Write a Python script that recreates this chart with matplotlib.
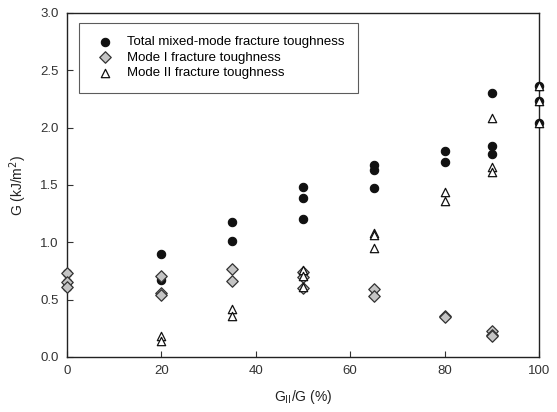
import matplotlib
matplotlib.use("Agg")
import matplotlib.pyplot as plt

plt.rcParams['font.family'] = ['Liberation Sans', 'DejaVu Sans']

# Total mixed-mode fracture toughness
x_total = [0, 0, 0, 20, 20, 35, 35, 50, 50, 50, 65, 65, 65, 80, 80, 90, 90, 90, 100, 100, 100]
g_total = [0.73, 0.65, 0.61, 0.90, 0.67, 1.18, 1.01, 1.48, 1.39, 1.20, 1.67, 1.63, 1.47,
           1.80, 1.70, 2.30, 1.84, 1.77, 2.36, 2.23, 2.04]

# Mode I fracture toughness
x_mode1 = [0, 0, 0, 20, 20, 20, 35, 35, 50, 50, 50, 65, 65, 80, 80, 90, 90, 90]
g_mode1 = [0.73, 0.65, 0.61, 0.71, 0.56, 0.54, 0.77, 0.66, 0.74, 0.70, 0.60, 0.59, 0.53,
           0.36, 0.35, 0.23, 0.19, 0.18]

# Mode II fracture toughness
x_mode2 = [20, 20, 35, 35, 50, 50, 50, 65, 65, 65, 80, 80, 90, 90, 90, 100, 100, 100]
g_mode2 = [0.18, 0.14, 0.42, 0.36, 0.76, 0.71, 0.61, 1.08, 1.06, 0.95, 1.44, 1.36,
           2.08, 1.66, 1.61, 2.36, 2.23, 2.04]

fig = plt.figure(figsize=(5.57, 4.12), dpi=100)
ax = fig.add_axes([0.120, 0.1335, 0.848, 0.835])

ax.scatter(x_total, g_total, s=36, marker='o', facecolor='#111111', edgecolor='#111111',
           linewidth=0.8, clip_on=False, zorder=3, label='Total mixed-mode fracture toughness')
ax.scatter(x_mode1, g_mode1, s=34, marker='D', facecolor='#c4c4c4', edgecolor='#333333',
           linewidth=0.9, clip_on=False, zorder=4, label='Mode I fracture toughness')
ax.scatter(x_mode2, g_mode2, s=36, marker='^', facecolor='white', edgecolor='#111111',
           linewidth=0.9, clip_on=False, zorder=5, label='Mode II fracture toughness')

ax.set_xlim(0, 100)
ax.set_ylim(0, 3.0)
ax.set_xticks([0, 20, 40, 60, 80, 100])
ax.set_yticks([0.0, 0.5, 1.0, 1.5, 2.0, 2.5, 3.0])
ax.set_yticklabels(['0.0', '0.5', '1.0', '1.5', '2.0', '2.5', '3.0'])
ax.tick_params(direction='in', length=4, width=0.8, labelsize=9.5, colors='#333333', pad=6)
for s in ax.spines.values():
    s.set_linewidth(1.0)
    s.set_color('#222222')

ax.set_xlabel('G$_{\\mathrm{II}}$/G (%)', fontsize=10, labelpad=8, color='#222222')
ax.set_ylabel('G (kJ/m$^2$)', fontsize=10, labelpad=8, color='#222222')

leg = ax.legend(loc='upper left', bbox_to_anchor=(0.025, 0.971), fontsize=9.5,
                frameon=True, fancybox=False, edgecolor='#333333', handletextpad=0.7,
                borderpad=1.0, labelspacing=0.25, borderaxespad=0.0, scatterpoints=1,
                handlelength=2.0)
leg.get_frame().set_linewidth(0.8)

fig.savefig('out.png', dpi=100)
